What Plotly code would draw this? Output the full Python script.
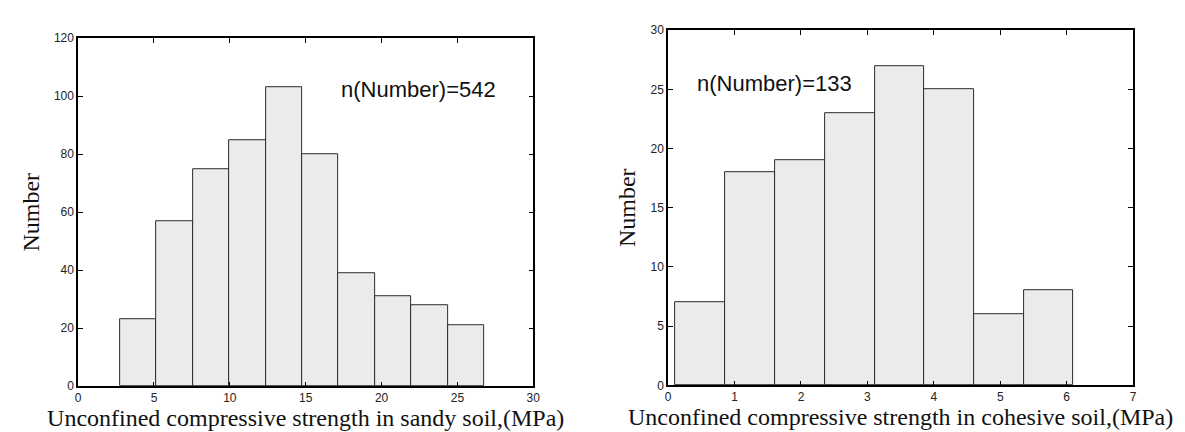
import numpy as np
import plotly.graph_objects as go

# ---- data ----
sandy_edges = [2.76, 5.16, 7.56, 9.96, 12.37, 14.77, 17.17, 19.57, 21.97, 24.37, 26.77]
sandy_counts = [23, 57, 75, 85, 103, 80, 39, 31, 28, 21]
cohesive_edges = [0.11, 0.86, 1.61, 2.36, 3.11, 3.86, 4.61, 5.36, 6.10]
cohesive_counts = [7, 18, 19, 23, 27, 25, 6, 8]
sandy_label = "n(Number)=542"
cohesive_label = "n(Number)=133"
sandy_xtitle = "Unconfined compressive strength in sandy soil,(MPa)"
cohesive_xtitle = "Unconfined compressive strength in cohesive soil,(MPa)"
ytitle = "Number"

W, H = 1185, 432


def centers_widths(edges):
    e = np.asarray(edges, dtype=float)
    return (e[:-1] + e[1:]) / 2, np.diff(e)


fill = "#ebebeb"
edge = "#2b2b2b"

fig = go.Figure()
c1, w1 = centers_widths(sandy_edges)
fig.add_trace(go.Bar(x=c1, y=sandy_counts, width=w1, xaxis="x", yaxis="y",
                     marker=dict(color=fill, line=dict(color=edge, width=1)),
                     showlegend=False, hoverinfo="x+y"))
c2, w2 = centers_widths(cohesive_edges)
fig.add_trace(go.Bar(x=c2, y=cohesive_counts, width=w2, xaxis="x2", yaxis="y2",
                     marker=dict(color=fill, line=dict(color=edge, width=1)),
                     showlegend=False, hoverinfo="x+y"))

tickfont = dict(family="Liberation Sans, Arial, sans-serif", size=12, color="#222")
titlefont = dict(family="Liberation Serif, Times New Roman, serif", size=24, color="#111")
annfont = dict(family="Liberation Sans, Arial, sans-serif", size=22, color="#111")

common_axis = dict(showline=True, linecolor="black", linewidth=1.5, mirror="ticks",
                   ticks="inside", ticklen=5, tickwidth=1, tickcolor="black",
                   showgrid=False, zeroline=False, tickfont=tickfont)

fig.update_layout(
    width=W, height=H,
    margin=dict(l=0, r=0, t=0, b=0),
    paper_bgcolor="white", plot_bgcolor="white",
    bargap=0,
    xaxis=dict(domain=[67.7 / W, 526.7 / W], anchor="y", range=[0, 30], dtick=5, tick0=0,
               title=dict(text=sandy_xtitle, font=titlefont, standoff=4), **common_axis),
    yaxis=dict(domain=[48.3 / H, 408 / H], anchor="x", range=[0, 120], dtick=20, tick0=0,
               title=dict(text=ytitle, font=titlefont, standoff=8), **common_axis),
    xaxis2=dict(domain=[662.7 / W, 1131.7 / W], anchor="y2", range=[0, 7], dtick=1, tick0=0,
                title=dict(text=cohesive_xtitle, font=titlefont, standoff=4), **common_axis),
    yaxis2=dict(domain=[49.3 / H, 416.3 / H], anchor="x2", range=[0, 30], dtick=5, tick0=0,
                title=dict(text=ytitle, font=titlefont, standoff=8), **common_axis),
    annotations=[
        dict(text=sandy_label, xref="x", yref="y", x=17.2, y=102.2, xanchor="left", yanchor="middle",
             showarrow=False, font=annfont),
        dict(text=cohesive_label, xref="x2", yref="y2", x=0.41, y=25.5, xanchor="left", yanchor="middle",
             showarrow=False, font=annfont),
    ],
)

fig.write_html("out.html")
